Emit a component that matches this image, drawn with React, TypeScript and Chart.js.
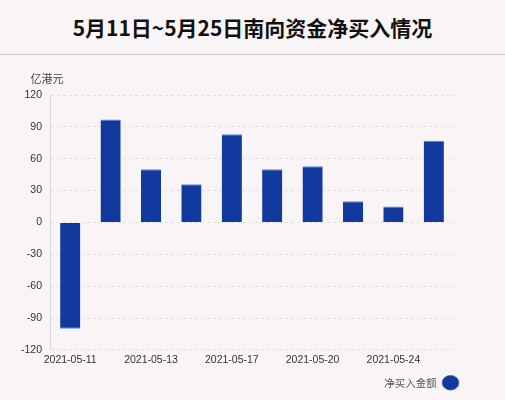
import React, { useEffect, useRef } from "react";
import { Chart, registerables } from "chart.js";

Chart.register(...registerables);

const dates = [
  "2021-05-11",
  "2021-05-12",
  "2021-05-13",
  "2021-05-14",
  "2021-05-17",
  "2021-05-18",
  "2021-05-20",
  "2021-05-21",
  "2021-05-24",
  "2021-05-25",
];
const netBuy = [-100, 97, 50, 36, 83, 50, 53, 20, 15, 77];
const yTicks = [-120, -90, -60, -30, 0, 30, 60, 90, 120];

// "亿港元" unit text above the y axis
const unitLabel = {
  id: "unitLabel",
  afterDraw(chart: any) {
    const { ctx, chartArea } = chart;
    ctx.save();
    ctx.font = "11px 'Noto Sans CJK SC', sans-serif";
    ctx.fillStyle = "#444";
    ctx.textAlign = "center";
    ctx.textBaseline = "middle";
    ctx.fillText("亿港元", chartArea.left - 3, chartArea.top - 16);
    ctx.restore();
  },
};

export default function App() {
  const ref = useRef<HTMLCanvasElement | null>(null);

  useEffect(() => {
    document.body.style.margin = "0";
    if (!ref.current) return;

    const chart = new Chart(ref.current, {
      type: "bar",
      data: {
        labels: dates,
        datasets: [
          {
            label: "净买入金额",
            data: netBuy,
            backgroundColor: "#123a9e",
            borderColor: "#5d82d6",
            borderWidth: { top: 1, bottom: 1, left: 0, right: 0 },
            barPercentage: 0.5,
            categoryPercentage: 1,
          },
        ],
      },
      options: {
        animation: false,
        responsive: false,
        layout: { padding: { left: 13, right: 40, top: 40, bottom: 2 } },
        plugins: {
          tooltip: { enabled: false },
          legend: {
            position: "bottom",
            align: "start",
            rtl: true,
            labels: {
              usePointStyle: true,
              pointStyle: "circle",
              pointStyleWidth: 17,
              boxHeight: 12,
              color: "#555",
              font: { size: 10.5, family: "'Noto Sans CJK SC', sans-serif" },
              padding: 6,
            },
          },
        },
        scales: {
          x: {
            grid: { display: false, drawTicks: false, tickLength: 0 },
            border: { display: false },
            afterFit: (axis) => {
              axis.height += 1;
            },
            ticks: {
              autoSkip: false,
              maxRotation: 0,
              padding: 4,
              color: "#333",
              font: { size: 10.5, family: "'Liberation Sans', sans-serif" },
              callback: (_v, i) => (i % 2 === 0 ? dates[i] : ""),
            },
          },
          y: {
            min: yTicks[0],
            max: yTicks[yTicks.length - 1],
            afterBuildTicks: (axis) => {
              axis.ticks = yTicks.map((v) => ({ value: v }));
            },
            grid: { color: "#e2dfe1", tickLength: 0 },
            border: { color: "#dcd8db", dash: [3, 3] },
            ticks: {
              color: "#333",
              padding: 8,
              font: { size: 10.5, family: "'Liberation Sans', sans-serif" },
            },
          },
          // empty spacer on the right so the legend can sit past the plot edge
          yR: {
            position: "right",
            grid: { display: false },
            border: { display: false },
            ticks: { display: false },
            afterFit: (axis) => {
              axis.width = 11;
            },
          },
        },
      },
      plugins: [unitLabel],
    });

    return () => chart.destroy();
  }, []);

  return (
    <div
      style={{
        position: "relative",
        width: 505,
        height: 400,
        background: "#f9f5f7",
        overflow: "hidden",
      }}
    >
      <div
        style={{
          height: 54,
          borderBottom: "1px solid #c9c6c8",
          display: "flex",
          alignItems: "center",
          justifyContent: "center",
          font: "bold 21px 'Noto Sans CJK SC', sans-serif",
          color: "#111",
        }}
      >
        5月11日~5月25日南向资金净买入情况
      </div>
      <canvas
        ref={ref}
        width={505}
        height={345}
        style={{ position: "absolute", left: 0, top: 55 }}
      />
    </div>
  );
}
